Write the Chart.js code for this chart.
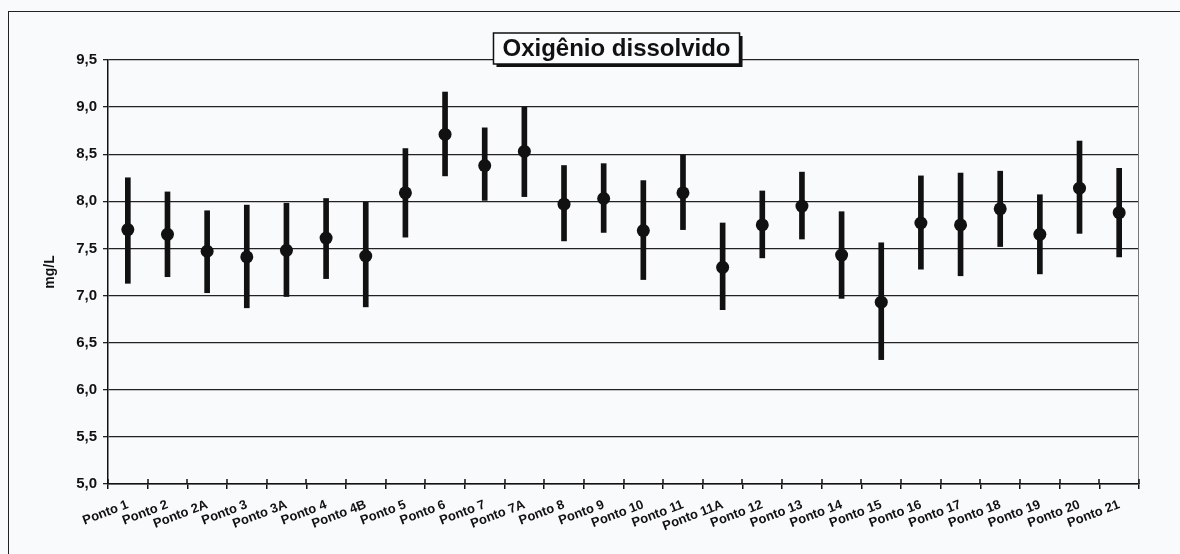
<!DOCTYPE html>
<html>
<head>
<meta charset="utf-8">
<script src="https://cdn.jsdelivr.net/npm/chart.js@4.4.1/dist/chart.umd.min.js"></script>
<style>
  html, body { margin: 0; padding: 0; background: #f9fafc; }
  #wrap { position: relative; width: 1180px; height: 554px; overflow: hidden; }
  #frame { position: absolute; left: 8px; top: 11px; width: 1300px; height: 700px;
           border-left: 1.5px solid #222; border-top: 1.5px solid #222; }
  canvas { position: absolute; left: 0; top: 0; }
</style>
</head>
<body>
<div id="wrap">
  <div id="frame"></div>
  <canvas id="chart" width="1180" height="554"></canvas>
</div>
<script>
// pontos de coleta
const categories = ['Ponto 1', 'Ponto 2', 'Ponto 2A', 'Ponto 3', 'Ponto 3A', 'Ponto 4', 'Ponto 4B',
  'Ponto 5', 'Ponto 6', 'Ponto 7', 'Ponto 7A', 'Ponto 8', 'Ponto 9', 'Ponto 10', 'Ponto 11',
  'Ponto 11A', 'Ponto 12', 'Ponto 13', 'Ponto 14', 'Ponto 15', 'Ponto 16', 'Ponto 17',
  'Ponto 18', 'Ponto 19', 'Ponto 20', 'Ponto 21'];

// media e limites (mg/L)
const means = [7.70, 7.65, 7.47, 7.41, 7.48, 7.61, 7.42, 8.09, 8.71, 8.38, 8.53, 7.97, 8.03,
  7.69, 8.09, 7.30, 7.75, 7.95, 7.43, 6.93, 7.77, 7.75, 7.92, 7.65, 8.14, 7.88];
const upper = [8.25, 8.10, 7.90, 7.96, 7.98, 8.03, 7.99, 8.56, 9.16, 8.78, 9.00, 8.38, 8.40,
  8.22, 8.49, 7.77, 8.11, 8.31, 7.89, 7.56, 8.27, 8.30, 8.32, 8.07, 8.64, 8.35];
const lower = [7.13, 7.20, 7.03, 6.87, 6.99, 7.18, 6.88, 7.62, 8.27, 8.01, 8.05, 7.58, 7.67,
  7.17, 7.70, 6.85, 7.40, 7.60, 6.97, 6.32, 7.28, 7.21, 7.52, 7.23, 7.66, 7.41];

const yMin = 5.0;
const yMax = 9.5;
const yStep = 0.5;
const titleText = 'Oxigênio dissolvido';

const FONT = "'Liberation Sans', Arial, sans-serif";

const extras = {
  id: 'extras',
  beforeDatasetsDraw(chart) {
    const { ctx, chartArea } = chart;
    const xs = chart.scales.x;
    ctx.save();
    // borda direita da area do grafico
    ctx.strokeStyle = '#777';
    ctx.lineWidth = 1;
    ctx.beginPath();
    ctx.moveTo(chartArea.right - 0.5, chartArea.top);
    ctx.lineTo(chartArea.right - 0.5, chartArea.bottom);
    ctx.stroke();
    // marcas do eixo x para cima
    ctx.strokeStyle = '#111';
    ctx.lineWidth = 1.5;
    for (let i = 0; i <= categories.length; i++) {
      const x = Math.round(xs.getPixelForValue(i - 0.5));
      ctx.beginPath();
      ctx.moveTo(x, chartArea.bottom);
      ctx.lineTo(x, chartArea.bottom - 5);
      ctx.stroke();
    }
    ctx.restore();
  },
  afterDraw(chart) {
    const { ctx, chartArea } = chart;
    ctx.save();
    ctx.font = 'bold 24px ' + FONT;
    const w = ctx.measureText(titleText).width + 18;
    const cx = chartArea.left + (chartArea.right - chartArea.left) / 2 - 7;
    const left = cx - w / 2, top = 33, h = 31;
    ctx.fillStyle = '#111';
    ctx.fillRect(left + 3, top + 3, w, h);
    ctx.fillStyle = '#fbfcfe';
    ctx.fillRect(left, top, w, h);
    ctx.strokeStyle = '#111';
    ctx.lineWidth = 1.5;
    ctx.strokeRect(left, top, w, h);
    ctx.fillStyle = '#111';
    ctx.textAlign = 'center';
    ctx.textBaseline = 'middle';
    ctx.fillText(titleText, cx, top + h / 2 + 1);
    ctx.restore();
  }
};

new Chart(document.getElementById('chart'), {
  data: {
    labels: categories,
    datasets: [
      {
        type: 'bar',
        label: 'Intervalo',
        data: lower.map((l, i) => [l, upper[i]]),
        backgroundColor: '#111',
        barThickness: 5,
        order: 2
      },
      {
        type: 'line',
        label: 'Média',
        data: means,
        showLine: false,
        pointRadius: 6.5,
        pointBackgroundColor: '#111',
        pointBorderColor: '#111',
        pointBorderWidth: 0,
        order: 1
      }
    ]
  },
  options: {
    responsive: false,
    animation: false,
    layout: { padding: { left: 30, right: 41, top: 60, bottom: 10 } },
    plugins: {
      legend: { display: false },
      tooltip: { enabled: false }
    },
    scales: {
      x: {
        offset: true,
        grid: { offset: true, drawOnChartArea: false, tickLength: 5, color: '#111', lineWidth: 1.5 },
        border: { display: true, color: '#111', width: 1.5 },
        ticks: {
          autoSkip: false, minRotation: 21, maxRotation: 21, padding: 8,
          color: '#111', font: { family: FONT, size: 13, weight: 'bold' }
        },
        afterFit(scale) { scale.height = 60; }
      },
      y: {
        min: yMin, max: yMax,
        grid: { color: '#222', lineWidth: 1.3, tickLength: 5 },
        border: { display: true, color: '#111', width: 1.5 },
        ticks: {
          stepSize: yStep, padding: 6, color: '#111',
          font: { family: FONT, size: 15, weight: 'bold' },
          callback: v => v.toFixed(1).replace('.', ',')
        },
        title: {
          display: true, text: 'mg/L', color: '#111',
          font: { family: FONT, size: 14, weight: 'bold' },
          padding: { top: 12, bottom: 0 }
        },
        afterFit(scale) { scale.width = 78; }
      }
    }
  },
  plugins: [extras]
});
</script>
</body>
</html>
